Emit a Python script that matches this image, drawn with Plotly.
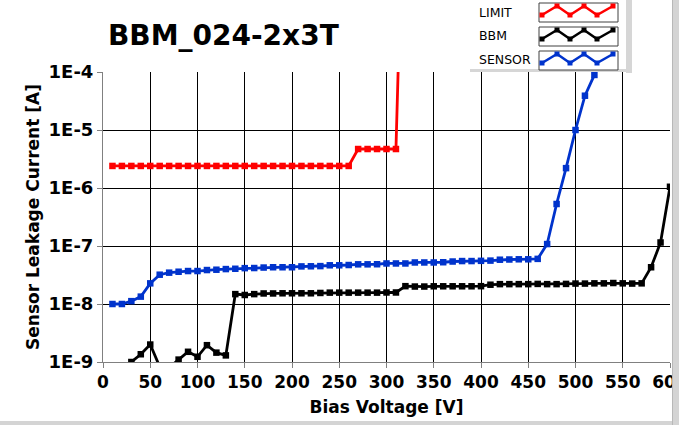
import plotly.graph_objects as go

# ---------------- data ----------------
limit_v = [10, 20, 30, 40, 50, 60, 70, 80, 90, 100, 110, 120, 130, 140, 150, 160, 170, 180,
           190, 200, 210, 220, 230, 240, 250, 260, 270, 280, 290, 300, 310, 314]
limit_i = [2.4e-6, 2.4e-6, 2.4e-6, 2.4e-6, 2.4e-6, 2.4e-6, 2.4e-6, 2.4e-6, 2.4e-6, 2.4e-6,
           2.4e-6, 2.4e-6, 2.4e-6, 2.4e-6, 2.4e-6, 2.4e-6, 2.4e-6, 2.4e-6, 2.4e-6, 2.4e-6,
           2.4e-6, 2.4e-6, 2.4e-6, 2.4e-6, 2.4e-6, 2.4e-6, 4.7e-6, 4.7e-6, 4.7e-6, 4.7e-6,
           4.7e-6, 1e-3]

bbm_v = [10, 20, 30, 40, 50, 60, 70, 80, 90, 100, 110, 120, 130, 140, 150, 160, 170, 180, 190, 200,
         210, 220, 230, 240, 250, 260, 270, 280, 290, 300, 310, 320, 330, 340, 350, 360, 370, 380,
         390, 400, 410, 420, 430, 440, 450, 460, 470, 480, 490, 500, 510, 520, 530, 540, 550, 560,
         570, 580, 590, 600]
bbm_i = [5e-10, 6e-10, 1.0e-9, 1.36e-9, 2.0e-9, 8.3e-10, 8.0e-10, 1.1e-9, 1.5e-9, 1.23e-9,
         1.95e-9, 1.45e-9, 1.3e-9, 1.48e-8, 1.43e-8, 1.48e-8, 1.52e-8, 1.52e-8, 1.53e-8, 1.53e-8,
         1.53e-8, 1.53e-8, 1.55e-8, 1.57e-8, 1.57e-8, 1.57e-8, 1.57e-8, 1.57e-8, 1.57e-8, 1.58e-8,
         1.58e-8, 2.03e-8, 2.0e-8, 2.0e-8, 2.02e-8, 2.02e-8, 2.02e-8, 2.02e-8, 2.02e-8, 2.03e-8,
         2.15e-8, 2.2e-8, 2.2e-8, 2.2e-8, 2.2e-8, 2.22e-8, 2.2e-8, 2.2e-8, 2.22e-8, 2.25e-8,
         2.25e-8, 2.27e-8, 2.27e-8, 2.3e-8, 2.27e-8, 2.25e-8, 2.27e-8, 4.3e-8, 1.15e-7, 1.05e-6]

sensor_v = [10, 20, 30, 40, 50, 60, 70, 80, 90, 100, 110, 120, 130, 140, 150, 160, 170, 180, 190,
            200, 210, 220, 230, 240, 250, 260, 270, 280, 290, 300, 310, 320, 330, 340, 350, 360,
            370, 380, 390, 400, 410, 420, 430, 440, 450, 460, 470, 480, 490, 500, 510, 520, 530]
sensor_i = [1.0e-8, 1.0e-8, 1.12e-8, 1.34e-8, 2.27e-8, 3.2e-8, 3.47e-8, 3.6e-8, 3.7e-8, 3.7e-8,
            3.85e-8, 3.9e-8, 4.0e-8, 4.05e-8, 4.15e-8, 4.17e-8, 4.25e-8, 4.3e-8, 4.3e-8, 4.3e-8,
            4.45e-8, 4.47e-8, 4.5e-8, 4.65e-8, 4.65e-8, 4.7e-8, 4.83e-8, 4.83e-8, 4.85e-8, 5.0e-8,
            5.0e-8, 5.0e-8, 5.2e-8, 5.2e-8, 5.2e-8, 5.25e-8, 5.4e-8, 5.5e-8, 5.5e-8, 5.55e-8,
            5.6e-8, 5.8e-8, 5.85e-8, 5.9e-8, 5.9e-8, 6.0e-8, 1.08e-7, 5.3e-7, 2.2e-6, 1.0e-5,
            3.9e-5, 8.9e-5, 2.5e-4]

series_names = ["LIMIT", "BBM", "SENSOR"]
series_colors = ["#FF0000", "#000000", "#0033CC"]

x_tickvals = [0, 50, 100, 150, 200, 250, 300, 350, 400, 450, 500, 550, 600]
y_tickvals = [1e-9, 1e-8, 1e-7, 1e-6, 1e-5, 1e-4]
y_ticktext = ["1E-9", "1E-8", "1E-7", "1E-6", "1E-5", "1E-4"]

title_text = "BBM_024-2x3T"
x_title = "Bias Voltage [V]"
y_title = "Sensor Leakage Current [A]"

# ---------------- layout geometry (pixels) ----------------
W, H = 679, 425
L, R, T, B = 103, 670, 72, 362
FONT = "DejaVu Sans"


def fx(p):
    return (p - L) / (R - L)


def fy(p):
    return (B - p) / (B - T)


fig = go.Figure()
for name, xs, ys, col in zip(series_names, [limit_v, bbm_v, sensor_v],
                             [limit_i, bbm_i, sensor_i], series_colors):
    fig.add_trace(go.Scatter(
        x=xs, y=ys, name=name, mode="lines+markers",
        line=dict(color=col, width=2.8),
        marker=dict(symbol="square", size=6.5, color=col),
        showlegend=False, cliponaxis=True,
    ))

shapes = []
annotations = []

# title
annotations.append(dict(text=title_text, xref="paper", yref="paper",
                        x=fx(106), y=fy(35), xanchor="left", yanchor="middle",
                        showarrow=False,
                        font=dict(family=FONT, size=28, color="#000", weight="bold")))

# custom legend panel (text left, zig-zag swatch right)
shapes.append(dict(type="rect", xref="paper", yref="paper", x0=fx(626), x1=fx(632),
                   y0=fy(73), y1=fy(0), fillcolor="#D6D6D6", line=dict(width=0), layer="above"))
shapes.append(dict(type="rect", xref="paper", yref="paper", x0=fx(470), x1=fx(632),
                   y0=fy(72), y1=fy(69), fillcolor="#D6D6D6", line=dict(width=0), layer="above"))
shapes.append(dict(type="rect", xref="paper", yref="paper", x0=fx(466), x1=fx(626),
                   y0=fy(69), y1=fy(0), fillcolor="#FFFFFF", line=dict(width=0), layer="above"))

zig_dx = [3, 18, 31, 45, 58, 74]
zig_dy = [12, 3, 12, 3, 12, 3]
row_tops = [3, 27, 51]
box_x0, box_w, box_h = 539, 79, 19
for name, col, top in zip(series_names, series_colors, row_tops):
    shapes.append(dict(type="rect", xref="paper", yref="paper",
                       x0=fx(box_x0), x1=fx(box_x0 + box_w), y0=fy(top + box_h), y1=fy(top),
                       fillcolor="#FFFFFF", line=dict(color="#404040", width=1), layer="above"))
    pts = [(fx(box_x0 + dx), fy(top + dy)) for dx, dy in zip(zig_dx, zig_dy)]
    path = "M " + " L ".join(f"{a},{b}" for a, b in pts)
    shapes.append(dict(type="path", xref="paper", yref="paper", path=path,
                       line=dict(color=col, width=2.5), layer="above"))
    for dx, dy in zip(zig_dx, zig_dy):
        cx, cy = box_x0 + dx, top + dy
        shapes.append(dict(type="rect", xref="paper", yref="paper",
                           x0=fx(cx - 2.5), x1=fx(cx + 2.5), y0=fy(cy + 2.5), y1=fy(cy - 2.5),
                           fillcolor=col, line=dict(width=0), layer="above"))
    annotations.append(dict(text=name, xref="paper", yref="paper", x=fx(477),
                            y=fy(top + 9), xanchor="left", yanchor="middle", showarrow=False,
                            font=dict(family=FONT, size=12.5, color="#000")))

# window frame strips (right and bottom)
shapes.append(dict(type="rect", xref="paper", yref="paper", x0=fx(672), x1=fx(680),
                   y0=fy(426), y1=fy(-1), fillcolor="#D4D4D4",
                   line=dict(width=0), layer="above"))
shapes.append(dict(type="line", xref="paper", yref="paper", x0=fx(672.5), x1=fx(672.5),
                   y0=fy(426), y1=fy(-1), line=dict(color="#B8B8B8", width=1), layer="above"))
shapes.append(dict(type="rect", xref="paper", yref="paper", x0=fx(-1), x1=fx(672),
                   y0=fy(426), y1=fy(421), fillcolor="#D4D4D4",
                   line=dict(width=0), layer="above"))

axis_font = dict(family=FONT, size=17, color="#000", weight="bold")

fig.update_layout(
    width=W, height=H,
    margin=dict(l=L, r=W - R, t=T, b=H - B, pad=0, autoexpand=False),
    paper_bgcolor="#FFFFFF", plot_bgcolor="#FFFFFF",
    shapes=shapes, annotations=annotations,
    showlegend=False,
    xaxis=dict(
        range=[0, 600], tickvals=x_tickvals, ticks="outside", ticklen=5,
        tickcolor="#808080", tickwidth=1, automargin=False, ticklabeloverflow="allow",
        showgrid=True, gridcolor="#000000", gridwidth=1, zeroline=False,
        showline=True, linecolor="#808080", linewidth=1,
        tickfont=axis_font,
        title=dict(text=x_title, font=axis_font, standoff=9),
    ),
    yaxis=dict(
        type="log", range=[-9, -4], tickvals=y_tickvals, ticktext=y_ticktext,
        ticks="outside", ticklen=5, tickcolor="#808080", tickwidth=1, automargin=False,
        ticklabeloverflow="allow",
        showgrid=True, gridcolor="#000000", gridwidth=1, zeroline=False,
        showline=True, linecolor="#808080", linewidth=1,
        tickfont=dict(family=FONT, size=18, color="#000", weight="bold"),
        title=dict(text=y_title, font=axis_font, standoff=4),
    ),
)

fig.write_html("out.html", config={"displayModeBar": False, "staticPlot": True},
               post_script="document.body.style.margin='0';document.body.style.overflow='hidden';")
